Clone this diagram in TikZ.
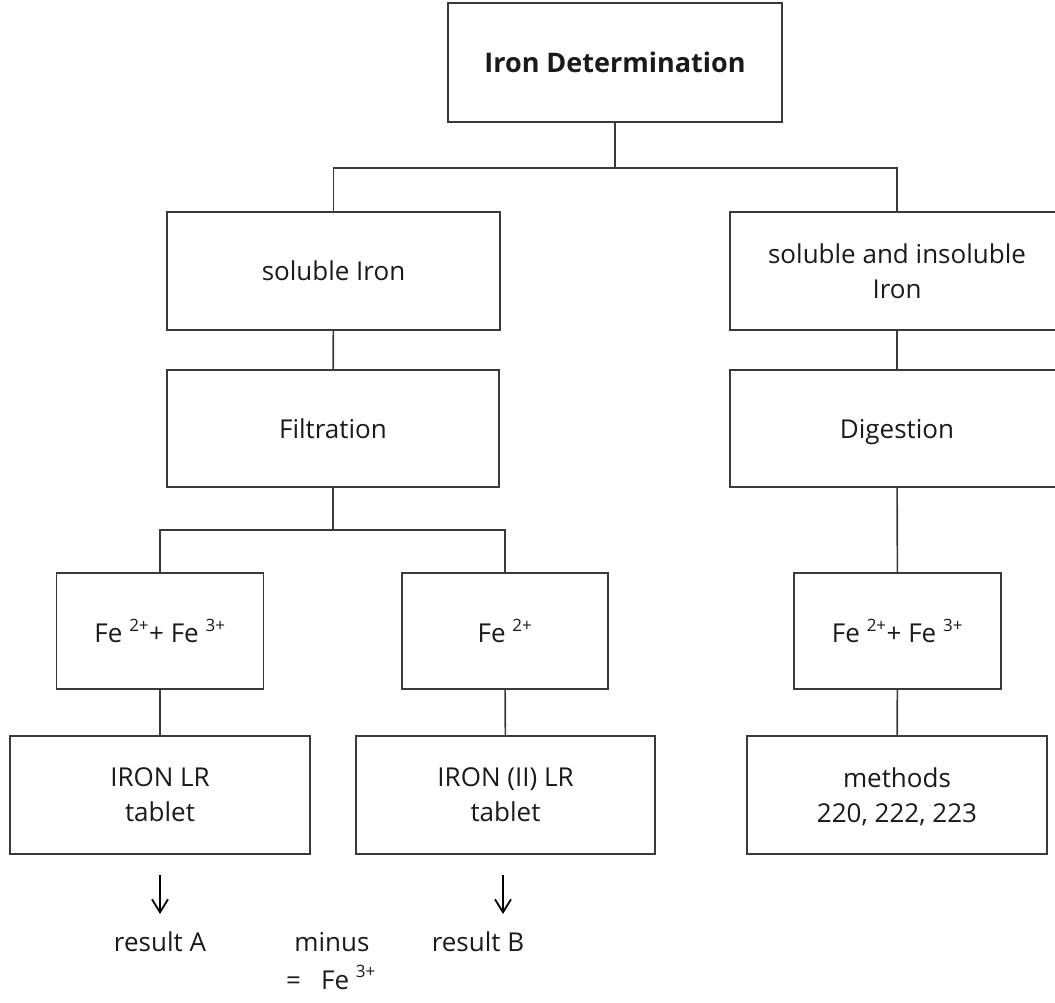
\documentclass[tikz,border=0pt]{standalone}
\usepackage{fontspec}
\setmainfont{Open Sans}
\usetikzlibrary{arrows.meta}
\definecolor{linec}{HTML}{3A3A3A}
\definecolor{textc}{HTML}{1A1A1A}
\tikzset{
  box/.style={draw=linec, line width=1.6pt, rectangle, inner sep=0pt, align=center,
    text=textc, font=\fontsize{26}{35}\selectfont, text depth=0pt},
  conn/.style={draw=linec, line width=1.6pt},
  downarrow/.style={draw=black, line width=1.8pt, -{Straight Barb[length=13pt,width=16pt,line width=1.8pt]}},
  lbl/.style={text=textc, font=\fontsize{26}{35}\selectfont, inner sep=0pt, anchor=base}
}
\newcommand{\supx}[1]{\raisebox{2pt}{\textsuperscript{\fontsize{17}{17}\selectfont #1}}}
\begin{document}
\begin{tikzpicture}[x=1pt,y=-1pt]
\useasboundingbox (0,0) rectangle (1055,1002);
\clip (0,0) rectangle (1055,1002);

% boxes
\node[box, minimum width=334pt, minimum height=119pt, font=\fontsize{27}{35}\selectfont\bfseries] (top) at (615,62.5) {Iron Determination};
\node[box, minimum width=333pt, minimum height=118pt] (sol) at (333.5,271) {soluble Iron};
\node[box, minimum width=334pt, minimum height=118pt] (solins) at (897,271) {soluble and insoluble\\Iron};
\node[box, minimum width=332pt, minimum height=117pt] (filt) at (333,428.5) {Filtration};
\node[box, minimum width=334pt, minimum height=117pt] (dig) at (897,428.5) {Digestion};
\node[box, minimum width=207pt, minimum height=116pt] (feL) at (160,631) {Fe\ \supx{2+}+ Fe\ \supx{3+}};
\node[box, minimum width=206pt, minimum height=116pt] (fe2) at (505,631) {Fe\ \supx{2+}};
\node[box, minimum width=207pt, minimum height=116pt] (feR) at (897.5,631) {Fe\ \supx{2+}+ Fe\ \supx{3+}};
\node[box, minimum width=300pt, minimum height=118pt] (ironLR) at (160,795) {IRON LR\\tablet};
\node[box, minimum width=299pt, minimum height=118pt] (iron2) at (505.5,795) {IRON (II) LR\\tablet};
\node[box, minimum width=300pt, minimum height=118pt] (meth) at (897,795) {methods\\220, 222, 223};

% junctions
\coordinate (j1) at (615,168);
\coordinate (j2) at (333,530);

% connectors
\draw[conn] (top.south) -- (j1);
\draw[conn] (sol.north) |- (j1) -| (solins.north);
\draw[conn] (sol) -- (filt);
\draw[conn] (solins) -- (dig);
\draw[conn] (filt.south) -- (j2);
\draw[conn] (feL.north) |- (j2) -| (fe2.north);
\draw[conn] (dig) -- (feR);
\draw[conn] (feL) -- (ironLR);
\draw[conn] (fe2) -- (iron2);
\draw[conn] (feR) -- (meth);

% result arrows
\coordinate (a1) at (160,875);
\coordinate (a2) at (160,914);
\coordinate (b1) at (503,875);
\coordinate (b2) at (503,914);
\draw[downarrow] (a1) -- (a2);
\draw[downarrow] (b1) -- (b2);

\node[lbl] (resA) at (160,951) {result A};
\node[lbl] (minus) at (332,951) {minus};
\node[lbl] (resB) at (478,951) {result B};
\node[lbl] (eq) at (331,989) {=\ \ \ Fe\ \supx{3+}};
\end{tikzpicture}
\end{document}
